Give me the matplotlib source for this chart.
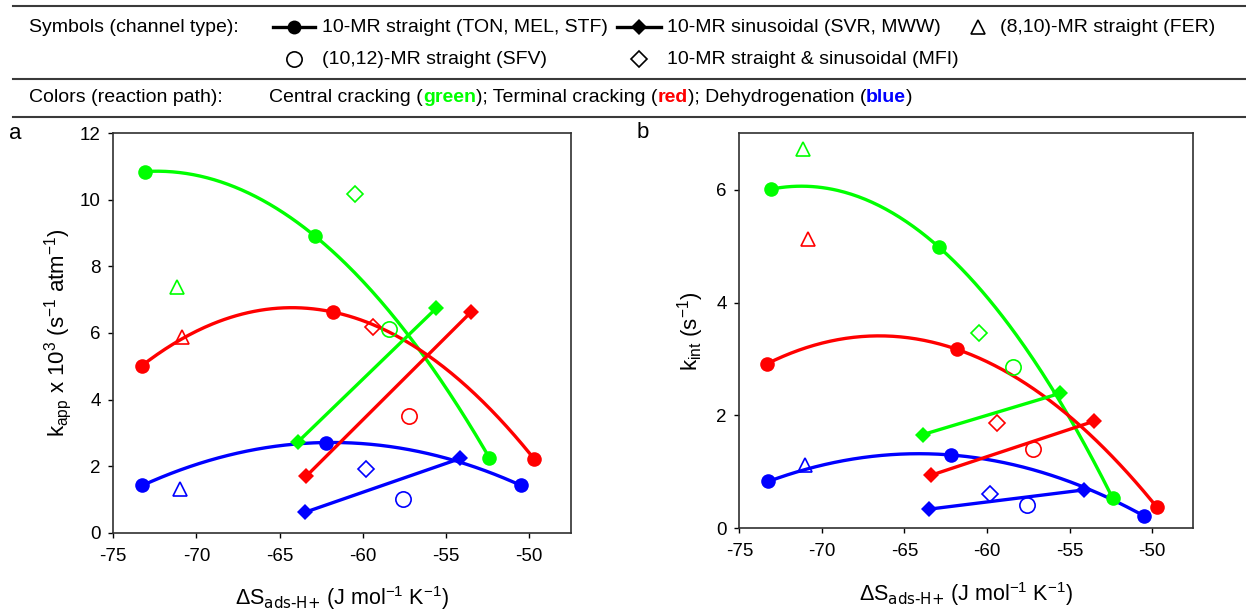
import numpy as np
import matplotlib
matplotlib.use('Agg')
import matplotlib.pyplot as plt
from matplotlib.lines import Line2D

plt.rcParams['font.family'] = ['Liberation Sans', 'DejaVu Sans']
plt.rcParams['mathtext.default'] = 'regular'
plt.rcParams['axes.unicode_minus'] = False

# reaction paths: central cracking, terminal cracking, dehydrogenation
path_colors = ['#00ff00', '#ff0000', '#0000ff']

# dS_ads-H+ (J mol-1 K-1) for each path (green, red, blue)
x_straight = [[-73.1, -62.9, -52.4], [-73.3, -61.8, -49.7], [-73.25, -62.2, -50.5]]
x_sinus = [[-63.9, -55.6], [-63.4, -53.5], [-63.5, -54.15]]
x_fer = [-71.15, -70.85, -71.0]
x_mfi = [-60.5, -59.4, -59.8]
x_sfv = [-58.45, -57.2, -57.6]

# panel a: k_app x 10^3
kapp_straight = [[10.85, 8.92, 2.25], [5.01, 6.63, 2.21], [1.42, 2.71, 1.42]]
kapp_sinus = [[2.73, 6.74], [1.70, 6.63], [0.61, 2.23]]
kapp_fer = [7.37, 5.87, 1.30]
kapp_mfi = [10.17, 6.18, 1.92]
kapp_sfv = [6.12, 3.50, 1.00]

# panel b: k_int
kint_straight = [[6.01, 4.98, 0.54], [2.92, 3.17, 0.37], [0.83, 1.30, 0.22]]
kint_sinus = [[1.66, 2.39], [0.94, 1.90], [0.34, 0.68]]
kint_fer = [6.73, 5.13, 1.12]
kint_mfi = [3.47, 1.86, 0.61]
kint_sfv = [2.86, 1.40, 0.41]

W, H = 1246, 610
fig = plt.figure(figsize=(W / 100, H / 100), dpi=100)


def fx(px):
    return px / W


def fy(py):
    return 1 - py / H


def draw_panel(ax, straight, sinus, fer, mfi, sfv):
    for i, c in enumerate(path_colors):
        xs = np.array(x_straight[i])
        ys = np.array(straight[i])
        coef = np.polyfit(xs, ys, 2)
        xf = np.linspace(xs.min(), xs.max(), 200)
        ax.plot(xf, np.polyval(coef, xf), color=c, lw=2.4, zorder=2)
        ax.plot(xs, ys, 'o', color=c, ms=10.5, mew=0, zorder=4)
        ax.plot(x_sinus[i], sinus[i], '-D', color=c, lw=2.4, ms=8.5, mew=0, zorder=3)
        ax.plot(x_fer[i], fer[i], '^', mfc='none', mec=c, ms=10.5, mew=1.2, zorder=5)
        ax.plot(x_mfi[i], mfi[i], 'D', mfc='none', mec=c, ms=8.5, mew=1.2, zorder=5)
        ax.plot(x_sfv[i], sfv[i], 'o', mfc='none', mec=c, ms=11, mew=1.2, zorder=5)
    ax.set_xlim(-75, -47.5)
    ax.set_xticks(np.arange(-75, -49, 5))
    ax.tick_params(axis='both', direction='out', length=3.6, width=1,
                   labelsize=13.5, top=False, right=False)
    ax.tick_params(axis='x', pad=7.2)
    ax.tick_params(axis='y', pad=5.5)
    for sp in ax.spines.values():
        sp.set_linewidth(1.2)
        sp.set_color('#303030')
    ax.set_xlabel(r'ΔS$_{\text{ads-H+}}$ (J mol$^{-1}$ K$^{-1}$)', fontsize=15.5)
    ax.xaxis.label.set_va('baseline')


ax_a = fig.add_axes([0.0909, 0.1267, 0.3673, 0.6548])
draw_panel(ax_a, kapp_straight, kapp_sinus, kapp_fer, kapp_mfi, kapp_sfv)
ax_a.set_ylim(0, 12)
ax_a.set_yticks(np.arange(0, 13, 2))
ax_a.set_ylabel(r'k$_{app}$ x 10$^{3}$ (s$^{-1}$ atm$^{-1}$)', fontsize=16)
ax_a.yaxis.label.set_va('center')
ax_a.yaxis.set_label_coords(-0.121, 0.5)
ax_a.xaxis.set_label_coords(0.5, -0.181)

ax_b = fig.add_axes([0.5934, 0.1339, 0.3644, 0.6475])
draw_panel(ax_b, kint_straight, kint_sinus, kint_fer, kint_mfi, kint_sfv)
ax_b.set_ylim(0, 7)
ax_b.set_yticks([0, 2, 4, 6])
ax_b.set_ylabel(r'k$_{int}$ (s$^{-1}$)', fontsize=16)
ax_b.yaxis.label.set_va('center')
ax_b.yaxis.set_label_coords(-0.1086, 0.5)
ax_b.xaxis.set_label_coords(0.5, -0.184)

fig.text(fx(15), fy(134), 'a', fontsize=16, ha='center', va='center')
fig.text(fx(643), fy(133), 'b', fontsize=16, ha='center', va='center')

# header box
for yy in [6, 78.5, 116.7]:
    fig.add_artist(Line2D([fx(13), 1.0], [fy(yy), fy(yy)], transform=fig.transFigure,
                          color='#3a3a3a', lw=1.5))

hkw = dict(fontsize=14, va='center', ha='left')
fig.text(fx(29), fy(27), 'Symbols (channel type):', **hkw)
fig.text(fx(29), fy(98), 'Colors (reaction path):', **hkw)

# legend symbols
fig.add_artist(Line2D([fx(273), fx(315)], [fy(27), fy(27)], transform=fig.transFigure,
                      color='black', lw=2.4))
fig.add_artist(Line2D([fx(294)], [fy(27)], transform=fig.transFigure, marker='o',
                      color='black', ms=10, mew=0))
fig.text(fx(322), fy(27), '10-MR straight (TON, MEL, STF)', **hkw)

fig.add_artist(Line2D([fx(617), fx(661)], [fy(27), fy(27)], transform=fig.transFigure,
                      color='black', lw=2.4))
fig.add_artist(Line2D([fx(639)], [fy(27)], transform=fig.transFigure, marker='D',
                      color='black', ms=8.5, mew=0))
fig.text(fx(667), fy(27), '10-MR sinusoidal (SVR, MWW)', **hkw)

fig.add_artist(Line2D([fx(978)], [fy(27)], transform=fig.transFigure, marker='^',
                      mfc='none', mec='black', ms=10.5, mew=1.2))
fig.text(fx(1000), fy(27), '(8,10)-MR straight (FER)', **hkw)

fig.add_artist(Line2D([fx(294)], [fy(59)], transform=fig.transFigure, marker='o',
                      mfc='none', mec='black', ms=11, mew=1.2))
fig.text(fx(322), fy(59), '(10,12)-MR straight (SFV)', **hkw)

fig.add_artist(Line2D([fx(639)], [fy(59)], transform=fig.transFigure, marker='D',
                      mfc='none', mec='black', ms=8.5, mew=1.2))
fig.text(fx(667), fy(59), '10-MR straight & sinusoidal (MFI)', **hkw)

# colour key, written piece by piece
pieces = [('Central cracking (', 'black', 'normal'),
          ('green', path_colors[0], 'bold'),
          ('); Terminal cracking (', 'black', 'normal'),
          ('red', path_colors[1], 'bold'),
          ('); Dehydrogenation (', 'black', 'normal'),
          ('blue', path_colors[2], 'bold'),
          (')', 'black', 'normal')]
fig.canvas.draw()
renderer = fig.canvas.get_renderer()
xpos = fx(269)
for s, col, wt in pieces:
    t = fig.text(xpos, fy(98), s, color=col, fontweight=wt, **hkw)
    xpos += t.get_window_extent(renderer=renderer).width / W

fig.savefig('out.png', dpi=100)
